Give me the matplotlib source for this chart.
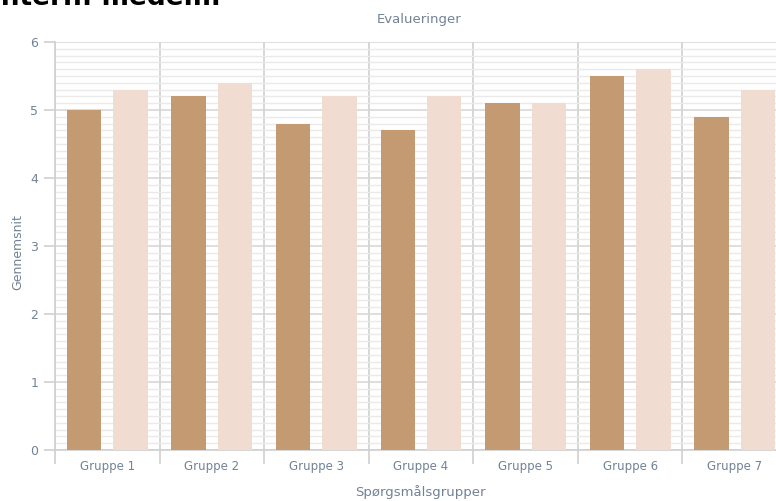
import numpy as np
import matplotlib.pyplot as plt
from matplotlib.ticker import MultipleLocator

groups = ['Gruppe 1', 'Gruppe 2', 'Gruppe 3', 'Gruppe 4', 'Gruppe 5', 'Gruppe 6', 'Gruppe 7']
series_a = [5.0, 5.2, 4.8, 4.7, 5.1, 5.5, 4.9]
series_b = [5.3, 5.4, 5.2, 5.2, 5.1, 5.6, 5.3]

dark = '#c39a72'
light = '#f0dcd0'
txt = '#728295'

fig = plt.figure(figsize=(7.76, 5.01), dpi=100)
ax = fig.add_axes([55/776, 1 - 450/501, 732/776, 408/501])

x = np.arange(len(groups))
w = 0.33
ax.bar(x - 0.222, series_a, w, color=dark, zorder=3)
ax.bar(x + 0.222, series_b, w, color=light, zorder=3)

ax.set_xlim(-0.5, len(groups) - 0.5)
ax.set_ylim(0, 6)
ax.yaxis.set_major_locator(MultipleLocator(1))
ax.yaxis.set_minor_locator(MultipleLocator(0.1))
ax.grid(axis='y', which='major', color='#d8d8d8', lw=1.2, zorder=0)
ax.grid(axis='y', which='minor', color='#eaeaea', lw=1, zorder=0)

# group separators
ax.set_xticks(np.arange(-0.5, len(groups), 1))
ax.set_xticks(x, minor=True)
ax.set_xticklabels([''] * len(ax.get_xticks()))
ax.set_xticklabels(groups, minor=True)
ax.grid(axis='x', which='major', color='#d0d0d0', lw=1.2, zorder=0)
ax.tick_params(axis='x', which='major', length=10, color='#d0d0d0', width=1.2)
ax.tick_params(axis='x', which='minor', length=0, pad=7, labelsize=8.5, labelcolor=txt)
ax.tick_params(axis='y', which='major', length=8, color='#d0d0d0', width=1.2,
               labelsize=9, labelcolor=txt, pad=4)
ax.tick_params(axis='y', which='minor', length=0)

for s in ['top', 'right']:
    ax.spines[s].set_visible(False)
for s in ['left', 'bottom']:
    ax.spines[s].set_color('#d0d0d0')
    ax.spines[s].set_linewidth(1.2)

fig.text(419/776, 1 - 20/501, 'Evalueringer', ha='center', va='center', fontsize=9.5, color=txt)
fig.text(18/776, 1 - 252/501, 'Gennemsnit', ha='center', va='center', rotation=90, fontsize=9, color=txt)
fig.text(420/776, 1 - 492/501, 'Spørgsmålsgrupper', ha='center', va='center', fontsize=9.5, color=txt)
fig.text(-0.012, 1.004, 'Intern: medelm', ha='left', va='center', fontsize=19,
         fontweight='bold', color='black')

fig.savefig('out.png', dpi=100)
